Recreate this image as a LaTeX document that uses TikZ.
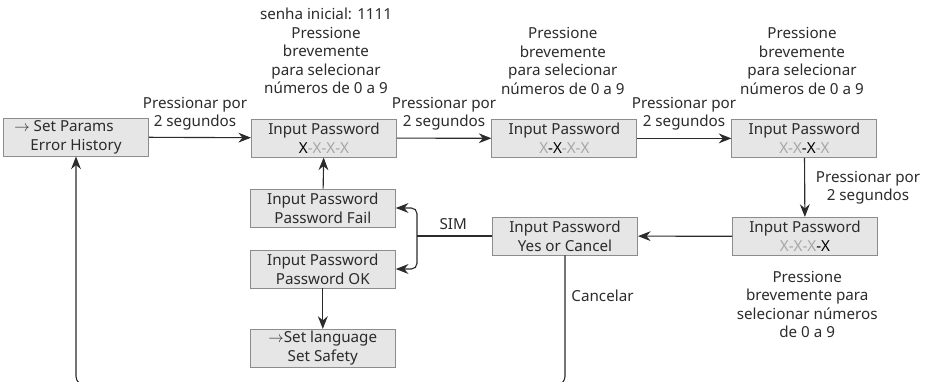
\documentclass[tikz,border=0pt]{standalone}
\usepackage{fontspec}
\setmainfont{Noto Sans}
\usetikzlibrary{arrows.meta,positioning,calc}

\definecolor{boxfill}{HTML}{E6E6E6}
\definecolor{boxline}{HTML}{8C8C8C}
\definecolor{ink}{HTML}{2B2B2B}
\definecolor{digitoff}{HTML}{A6A6A6}
\newcommand{\dgon}[1]{\textcolor{black}{#1}}
\newcommand{\dgoff}[1]{\textcolor{digitoff}{#1}}

\tikzset{
  menubox/.style={draw=boxline, fill=boxfill, line width=0.7pt, minimum width=3.625cm,
    minimum height=0.95cm, inner sep=1pt, align=center, text=ink,
    font=\fontsize{10.8}{13.4}\selectfont},
  note/.style={align=center, text=ink, inner sep=0pt, font=\fontsize{10.8}{13.1}\selectfont},
  arr/.style={-{Stealth[length=9pt,width=7pt]}, line width=0.8pt, draw=ink},
  wire/.style={line width=0.8pt, draw=ink},
}

\begin{document}
\begin{tikzpicture}
\useasboundingbox (0,0) rectangle (23.325,-9.525);

% menu boxes
\node[menubox] (setp) at (1.9,-3.425) {$\rightarrow$ Set Params\hspace*{17pt}\\Error History};
\node[menubox] (ip1) at (8.1,-3.45) {Input Password\\\dgon{X}\dgoff{-X-X-X}};
\node[menubox] (ip2) at (14.11,-3.46) {Input Password\\\dgoff{X}\dgon{-X}\dgoff{-X-X}};
\node[menubox] (ip3) at (20.11,-3.46) {Input Password\\\dgoff{X-X}\dgon{-X}\dgoff{-X}};
\node[menubox] (ip4) at (20.125,-5.91) {Input Password\\\dgoff{X-X-X}\dgon{-X}};
\node[menubox] (yesno) at (14.125,-5.9) {Input Password\\Yes or Cancel};
\node[menubox] (fail) at (8.07,-5.2) {Input Password\\Password Fail};
\node[menubox] (ok) at (8.07,-6.725) {Input Password\\Password OK};
\node[menubox] (lang) at (8.07,-8.71) {$\rightarrow$Set language\\Set Safety};

% notes
\node[note] (note1) at (8.15,-1.275) {senha inicial: 1111\\Pressione\\brevemente\\para selecionar\\números de 0 a 9};
\node[note] (note2) at (14.07,-1.525) {Pressione\\brevemente\\para selecionar\\números de 0 a 9};
\node[note] (note3) at (20.05,-1.525) {Pressione\\brevemente\\para selecionar\\números de 0 a 9};
\node[note] (note4) at (20.18,-7.61) {Pressione\\brevemente para\\selecionar números\\de 0 a 9};

% labels
\node[note] (lab1) at (4.875,-2.85) {Pressionar por\\2 segundos};
\node[note] (lab2) at (11.1,-2.85) {Pressionar por\\2 segundos};
\node[note] (lab3) at (17.1,-2.85) {Pressionar por\\2 segundos};
\node[note] (lab4) at (21.7,-4.7) {Pressionar por\\2 segundos};
\node[note] (labsim) at (11.33,-5.6) {SIM};
\node[note, anchor=west] (labcan) at (14.28,-7.4) {Cancelar};

% connectors
\draw[arr] (setp) -- (ip1);
\draw[arr] (ip1) -- (ip2);
\draw[arr] (ip2) -- (ip3);
\draw[arr] (ip3) -- (ip4);
\draw[arr] (ip4) -- (yesno);
\draw[arr] (fail) -- (ip1);
\draw[arr] (ok) -- (lang);

\coordinate (br) at (10.425,-5.9);
\draw[wire] (yesno.west) -- (br);
\draw[arr, rounded corners=4pt] (br) |- (fail.east);
\draw[arr, rounded corners=4pt] (br) |- (ok.east);

\coordinate (loop) at (1.95,-9.62);
\draw[arr, rounded corners=6pt] (yesno.south) |- (loop) -- (loop -| setp.south) -- (setp.south);
\end{tikzpicture}
\end{document}
